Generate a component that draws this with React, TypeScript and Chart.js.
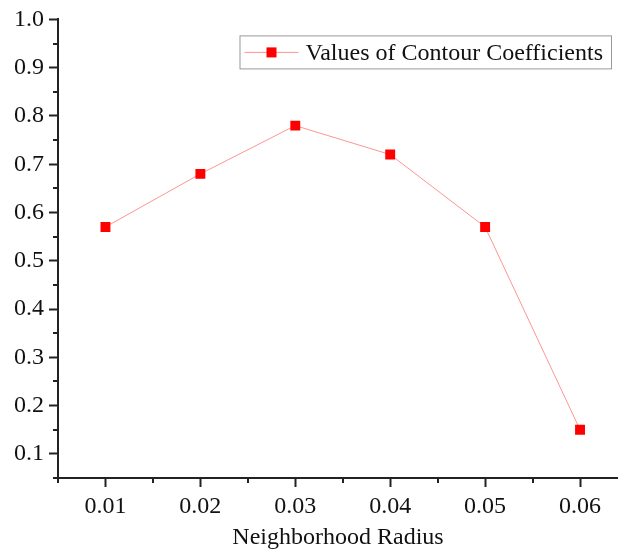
import React, { useEffect, useRef } from "react";
import { Chart, registerables } from "chart.js";

Chart.register(...registerables);

const xValues = [0.01, 0.02, 0.03, 0.04, 0.05, 0.06];
const yValues = [0.57, 0.68, 0.78, 0.72, 0.57, 0.15];
const xMajorTicks = [0.01, 0.02, 0.03, 0.04, 0.05, 0.06];
const xMinorTicks = [0.005, 0.015, 0.025, 0.035, 0.045, 0.055];
const yMajorTicks = [0.1, 0.2, 0.3, 0.4, 0.5, 0.6, 0.7, 0.8, 0.9, 1.0];
const yMinorTicks = [0.05, 0.15, 0.25, 0.35, 0.45, 0.55, 0.65, 0.75, 0.85, 0.95];
const X_MIN = 0.005;
const X_MAX = 0.064;
const seriesLabel = "Values of Contour Coefficients";
const xTitle = "Neighborhood Radius";

const FONT = "'Liberation Serif', 'Times New Roman', serif";
const AXIS = "#222222";
const FS = 24;

const isMajor = (v: number, arr: number[]) => arr.some((m) => Math.abs(m - v) < 1e-9);

const minorTickPlugin = {
  id: "minorTicks",
  afterDraw(chart: any) {
    const ctx = chart.ctx;
    const xs = chart.scales.x;
    const ys = chart.scales.y;
    ctx.save();
    ctx.strokeStyle = AXIS;
    ctx.lineWidth = 2;
    const len = 5;
    xMinorTicks.forEach((v) => {
      const px = Math.round(xs.getPixelForValue(v));
      ctx.beginPath();
      ctx.moveTo(px, xs.top);
      ctx.lineTo(px, xs.top + len);
      ctx.stroke();
    });
    yMinorTicks.forEach((v) => {
      const py = Math.round(ys.getPixelForValue(v));
      ctx.beginPath();
      ctx.moveTo(ys.right, py);
      ctx.lineTo(ys.right - len, py);
      ctx.stroke();
    });
    ctx.restore();
  },
};

const legendPlugin = {
  id: "boxLegend",
  afterDraw(chart: any) {
    const ctx = chart.ctx;
    const area = chart.chartArea;
    const ds = chart.data.datasets[0];
    ctx.save();
    ctx.font = `${FS}px ${FONT}`;
    const tw = ctx.measureText(ds.label).width;
    const right = 611;
    const top = area.top + 16;
    const h = 33;
    const left = right - tw - 74;
    ctx.strokeStyle = "#999999";
    ctx.lineWidth = 1;
    ctx.strokeRect(left + 0.5, top + 0.5, right - left, h);
    const cy = top + h / 2 + 0.5;
    ctx.strokeStyle = ds.borderColor;
    ctx.lineWidth = 1;
    ctx.beginPath();
    ctx.moveTo(left + 5, cy);
    ctx.lineTo(left + 59, cy);
    ctx.stroke();
    ctx.fillStyle = ds.pointBackgroundColor;
    ctx.fillRect(left + 27, cy - 5, 10, 10);
    ctx.fillStyle = "#111111";
    ctx.textBaseline = "middle";
    ctx.textAlign = "left";
    ctx.fillText(ds.label, left + 66, cy + 1);
    ctx.restore();
  },
};

export default function App() {
  const canvasRef = useRef<HTMLCanvasElement | null>(null);

  useEffect(() => {
    document.body.style.margin = "0";
    const canvas = canvasRef.current;
    if (!canvas) return;
    const chart = new Chart(canvas, {
      type: "line",
      data: {
        datasets: [
          {
            label: seriesLabel,
            data: xValues.map((x, i) => ({ x, y: yValues[i] })),
            borderColor: "rgba(255, 60, 60, 0.55)",
            borderWidth: 1,
            pointStyle: "rect",
            pointRadius: 7,
            pointBackgroundColor: "#ff0000",
            pointBorderColor: "#ff0000",
            pointBorderWidth: 0,
            tension: 0,
          },
        ],
      },
      options: {
        responsive: false,
        animation: false,
        layout: { autoPadding: false, padding: { top: 19, left: 0, right: 0, bottom: 0 } },
        plugins: {
          legend: { display: false },
          tooltip: { enabled: false },
        },
        scales: {
          x: {
            type: "linear",
            min: X_MIN,
            max: X_MAX,
            afterFit: (s: any) => {
              s.height = 72;
              s.paddingRight = 0;
              s.paddingLeft = 0;
            },
            afterBuildTicks: (s: any) => {
              s.ticks = [...xMajorTicks, X_MAX].map((v) => ({ value: v }));
            },
            border: { display: true, color: AXIS, width: 2 },
            grid: {
              drawOnChartArea: false,
              drawTicks: true,
              tickLength: 9,
              tickColor: (c: any) =>
                c.tick && isMajor(c.tick.value, xMajorTicks) ? AXIS : "rgba(0,0,0,0)",
              tickWidth: 2,
            },
            ticks: {
              padding: 5,
              color: "#111111",
              font: { family: FONT, size: FS },
              maxRotation: 0,
              autoSkip: false,
              callback: (v: any) => (isMajor(Number(v), xMajorTicks) ? Number(v).toFixed(2) : ""),
            },
            title: {
              display: true,
              text: xTitle,
              color: "#111111",
              font: { family: FONT, size: FS, lineHeight: 1.0 },
              padding: { top: 0, bottom: 0 },
            },
          },
          y: {
            type: "linear",
            min: 0.05,
            max: 1.0,
            afterFit: (s: any) => {
              s.width = 58;
            },
            afterBuildTicks: (s: any) => {
              s.ticks = yMajorTicks.map((v) => ({ value: v }));
            },
            border: { display: true, color: AXIS, width: 2 },
            grid: {
              drawOnChartArea: false,
              drawTicks: true,
              tickLength: 9,
              tickColor: AXIS,
              tickWidth: 2,
            },
            ticks: {
              padding: 5,
              color: "#111111",
              font: { family: FONT, size: FS },
              autoSkip: false,
              callback: (v: any) => Number(v).toFixed(1),
            },
          },
        },
      },
      plugins: [minorTickPlugin, legendPlugin],
    } as any);
    return () => chart.destroy();
  }, []);

  return (
    <div style={{ width: 618, height: 550 }}>
      <canvas ref={canvasRef} width={618} height={550} />
    </div>
  );
}
